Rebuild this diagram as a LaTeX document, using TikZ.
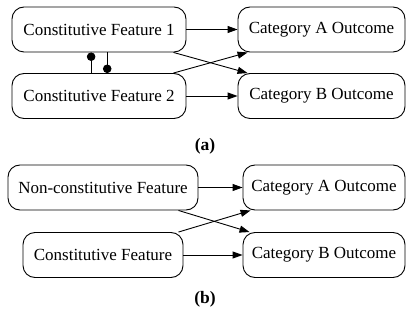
\documentclass[tikz,border=0pt]{standalone}
\usepackage{fontspec}
\setmainfont{Liberation Serif}
\usetikzlibrary{arrows.meta,calc}

\begin{document}
\begin{tikzpicture}[x=1pt,y=-1pt,line width=0.9pt,
  box/.style={draw,rounded corners=12pt,minimum height=45pt,inner sep=0pt,
    font=\fontsize{17}{20}\selectfont},
  arr/.style={-{Triangle[length=10pt,width=7pt]}},
  dotend/.style={-{Circle[length=8.5pt]}},
  panellabel/.style={font=\fontsize{17.5}{20}\selectfont\bfseries}]
 \useasboundingbox (0,0) rectangle (406,320);
 % (a)
 \node[box,minimum width=174pt] (cf1) at (99,29.5) {Constitutive Feature 1};
 \node[box,minimum width=174pt] (cf2) at (99,96) {Constitutive Feature 2};
 \node[box,minimum width=167pt] (ca) at (321.5,29.5) {Category A Outcome};
 \node[box,minimum width=167pt] (cb) at (321.5,96) {Category B Outcome};
 \draw[arr] (cf1) -- (ca);
 \draw[arr] (cf2) -- (cb);
 \draw[arr] ([xshift=-13pt]cf1.south east) -- ([xshift=10pt]cb.north west);
 \draw[arr] ([xshift=-13pt]cf2.north east) -- ([xshift=10pt]ca.south west);
 \coordinate (p) at ($(cf2.north west)!0.455!(cf2.north east)$);
 \coordinate (q) at ($(cf1.south west)!0.547!(cf1.south east)$);
 \draw[dotend] (p) -- (p |- cf1.south);
 \draw[dotend] (q) -- (q |- cf2.north);
 \node[panellabel] (la) at (205,146) {(a)};
 % (b)
 \node[box,minimum width=190pt] (nc) at (103,187.5) {Non-constitutive Feature};
 \node[box,minimum width=160pt] (cf) at (103,255) {Constitutive Feature};
 \node[box,minimum width=162pt] (ca2) at (324,187.5) {Category A Outcome};
 \node[box,minimum width=162pt] (cb2) at (324,255) {Category B Outcome};
 \draw[arr] (nc) -- (ca2);
 \draw[arr] (cf) -- (cb2);
 \draw[arr] ([xshift=-20pt]nc.south east) -- ([xshift=7pt]cb2.north west);
 \draw[arr] ([xshift=-5pt]cf.north east) -- ([xshift=8pt]ca2.south west);
 \node[panellabel] (lb) at (205,299) {(b)};
\end{tikzpicture}
\end{document}
